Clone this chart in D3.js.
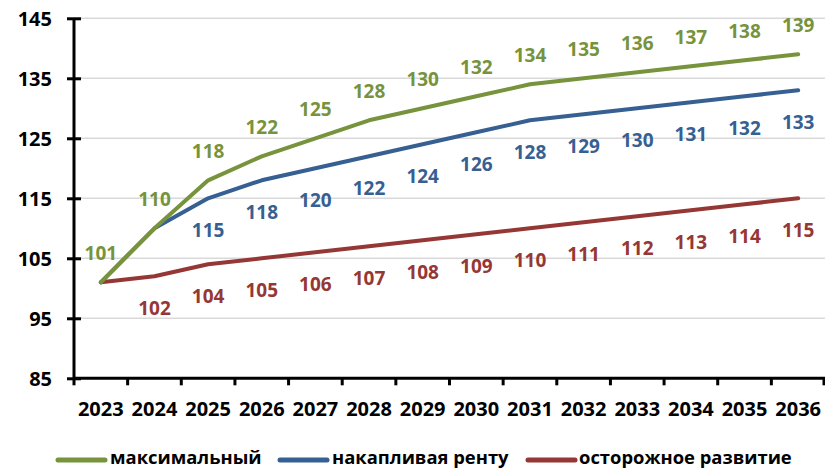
<!DOCTYPE html>
<html>
<head>
<meta charset="utf-8">
<script src="https://cdn.jsdelivr.net/npm/d3@7"></script>
<style>
  html, body { margin: 0; padding: 0; background: #fff; }
  svg { display: block; font-family: "Open Sans", "DejaVu Sans", sans-serif; font-weight: 700; }
</style>
</head>
<body>
<svg id="chart" width="825" height="469"></svg>
<script>
// Years on the horizontal axis
const years = ["2023","2024","2025","2026","2027","2028","2029","2030","2031","2032","2033","2034","2035","2036"];

// Scenario values
const maxValues        = [101,110,118,122,125,128,130,132,134,135,136,137,138,139];
const rentValues       = [101,110,115,118,120,122,124,126,128,129,130,131,132,133];
const cautiousValues   = [101,102,104,105,106,107,108,109,110,111,112,113,114,115];

// Value axis ticks
const yTicks = [85,95,105,115,125,135,145];

const seriesNames = ["максимальный", "накапливая ренту", "осторожное развитие"];
const seriesColors = ["#77933C", "#376092", "#953735"];

// First labelled point of each series (earlier points coincide with the top series)
const firstLabelled = [0, 2, 1];

const series = [
  { name: seriesNames[0], color: seriesColors[0], values: maxValues,      labelPos: "above", from: firstLabelled[0] },
  { name: seriesNames[1], color: seriesColors[1], values: rentValues,     labelPos: "below", from: firstLabelled[1] },
  { name: seriesNames[2], color: seriesColors[2], values: cautiousValues, labelPos: "below", from: firstLabelled[2] }
];

const svg = d3.select("#chart");
const plotLeft = 74, plotRight = 825, plotTop = 18.3, plotBottom = 378.3;

const x = d3.scaleBand().domain(years).range([plotLeft, plotRight]).padding(0);
const y = d3.scaleLinear().domain([85, 145]).range([plotBottom, plotTop]);
const cx = d => x(d) + x.bandwidth() / 2;

// Horizontal gridlines
svg.append("g")
  .selectAll("line")
  .data(yTicks.filter(t => t !== 85))
  .join("line")
  .attr("x1", plotLeft).attr("x2", plotRight)
  .attr("y1", d => y(d)).attr("y2", d => y(d))
  .attr("stroke", "#d9d9d9").attr("stroke-width", 1.5);

// Series lines
const line = d3.line()
  .x((d, i) => cx(years[i]))
  .y(d => y(d));

svg.append("g")
  .selectAll("path")
  .data(series.slice().reverse())
  .join("path")
  .attr("d", s => line(s.values))
  .attr("fill", "none")
  .attr("stroke", s => s.color)
  .attr("stroke-width", 4)
  .attr("stroke-linejoin", "round")
  .attr("stroke-linecap", "round");

// Value labels
series.forEach(s => {
  const pts = s.values.map((v, i) => ({ v, year: years[i] })).slice(s.from);
  svg.append("g")
    .selectAll("text")
    .data(pts)
    .join("text")
    .attr("x", d => cx(d.year))
    .attr("y", d => s.labelPos === "above" ? y(d.v) - 29 : y(d.v) + 32)
    .attr("dy", "0.36em")
    .attr("text-anchor", "middle")
    .attr("fill", s.color)
    .style("font-size", "19px")
    .text(d => d.v);
});

// Y axis
const yAxis = d3.axisLeft(y).tickValues(yTicks).tickSize(0).tickPadding(0);
const gy = svg.append("g").attr("transform", `translate(${plotLeft},0)`).call(yAxis);
gy.select(".domain").remove();
gy.selectAll("text")
  .attr("x", -22)
  .attr("dy", "0.36em")
  .attr("fill", "#000")
  .style("font-size", "20px")
  .style("font-family", "'Open Sans', sans-serif")
  .style("font-weight", 700);
gy.selectAll(".tick line").remove();
gy.selectAll(".tick").append("line")
  .attr("x1", -7).attr("x2", 7)
  .attr("stroke", "#000").attr("stroke-width", 3);
svg.append("line")
  .attr("x1", plotLeft).attr("x2", plotLeft)
  .attr("y1", plotTop).attr("y2", plotBottom)
  .attr("stroke", "#000").attr("stroke-width", 3);

// X axis
const gx = svg.append("g").attr("transform", `translate(0,${plotBottom})`);
gx.append("line")
  .attr("x1", plotLeft).attr("x2", plotRight)
  .attr("stroke", "#000").attr("stroke-width", 3);
gx.selectAll(".bound")
  .data(years.concat(["end"]))
  .join("line")
  .attr("class", "bound")
  .attr("x1", (d, i) => i < years.length ? x(d) : plotRight - 1)
  .attr("x2", (d, i) => i < years.length ? x(d) : plotRight - 1)
  .attr("y1", 0).attr("y2", 7)
  .attr("stroke", "#000").attr("stroke-width", 3);
gx.selectAll(".yr")
  .data(years)
  .join("text")
  .attr("class", "yr")
  .attr("x", d => cx(d))
  .attr("y", 31)
  .attr("dy", "0.36em")
  .attr("text-anchor", "middle")
  .attr("fill", "#000")
  .style("font-size", "20px")
  .text(d => d);

// Legend
const legendItems = [
  { x1: 58,  x2: 105, tx: 110 },
  { x1: 280, x2: 327, tx: 332 },
  { x1: 528, x2: 575, tx: 579 }
];
const lg = svg.append("g");
series.forEach((s, i) => {
  const it = legendItems[i];
  lg.append("line")
    .attr("x1", it.x1).attr("x2", it.x2)
    .attr("y1", 460).attr("y2", 460)
    .attr("stroke", s.color).attr("stroke-width", 5)
    .attr("stroke-linecap", "round");
  lg.append("text")
    .attr("x", it.tx).attr("y", 464)
    .attr("fill", "#000")
    .style("font-size", "18.4px")
    .text(s.name);
});
</script>
</body>
</html>
